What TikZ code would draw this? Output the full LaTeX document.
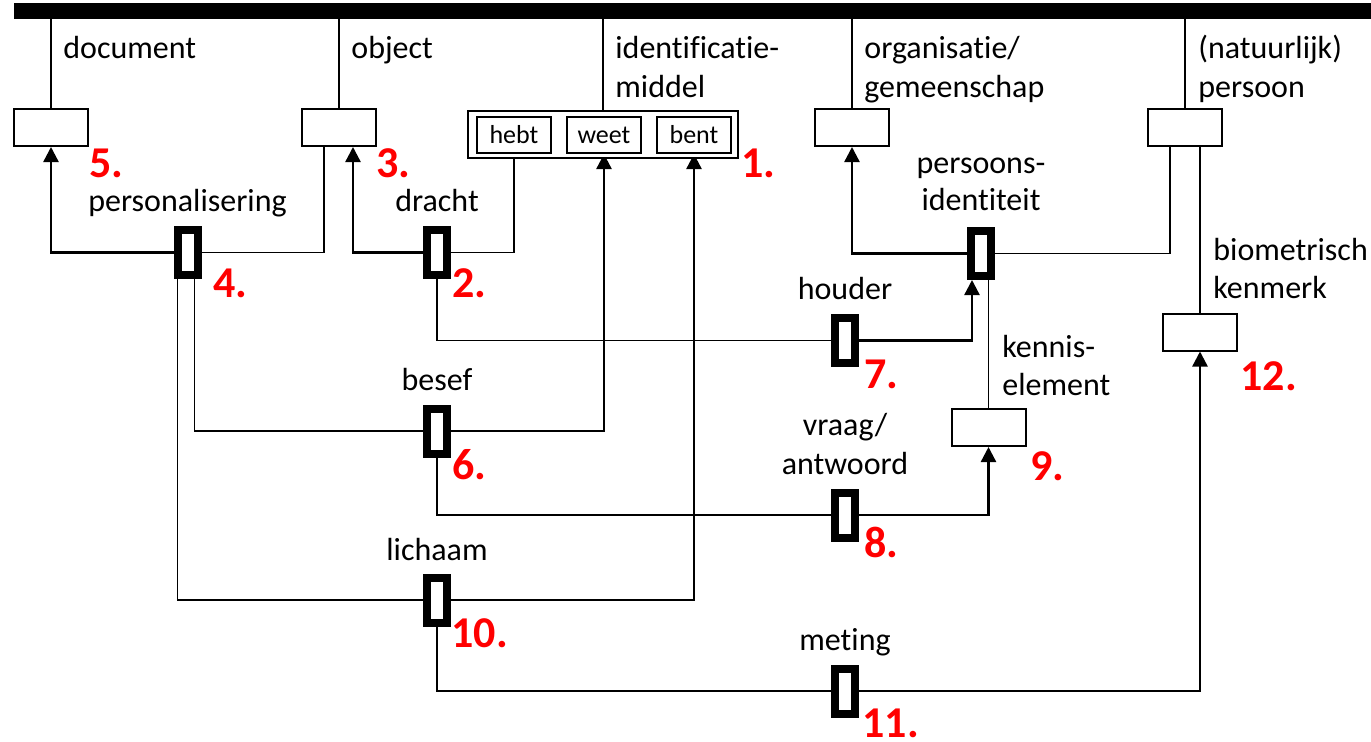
\documentclass[tikz,border=0pt]{standalone}
\usepackage{fontspec}
\setmainfont[Ligatures={NoCommon}]{Carlito}
\usetikzlibrary{arrows.meta,calc}
\pgfdeclarelayer{bg}
\pgfsetlayers{bg,main}
\begin{document}
\begin{tikzpicture}[x=0.5pt,y=-0.5pt,
  lbl/.style={font=\fontsize{16pt}{19.5pt}\selectfont, inner sep=0pt},
  small/.style={font=\fontsize{13pt}{15pt}\selectfont},
  num/.style={font=\fontsize{22pt}{26pt}\selectfont\bfseries, text=red, inner sep=0pt, anchor=base west},
  ent/.style={draw, line width=1pt, fill=white, minimum width=37pt, minimum height=18.5pt, inner sep=0pt},
  rel/.style={draw, line width=4pt, fill=white, minimum width=10pt, minimum height=22.5pt, inner sep=0pt},
  ln/.style={line width=0.8pt},
  arr/.style={line width=1.2pt, -{Triangle[width=7.5pt,length=7.5pt]}},
]
\useasboundingbox (0,0) rectangle (1371,741);

% top bar
\node (bar) [fill=black, inner sep=0pt, outer sep=0pt, minimum width=678.5pt, minimum height=8pt, anchor=north west] at (14,3) {};

% entity boxes
\node[ent] (B5) at (51,127.5) {};
\node[ent] (B3) at (339,127.5) {};
\node[ent] (Borg) at (852,127.5) {};
\node[ent] (Bpers) at (1185,127.5) {};
\node[ent] (B9) at (988.5,427.5) {};
\node[ent] (B12) at (1200,332) {};

% identificatiemiddel box
\node[draw, line width=1pt, fill=white, minimum width=135pt, minimum height=23.5pt, inner sep=0pt] (ID) at (603,134.5) {};
\node[ent, minimum height=18pt, small] (hebt) at (514,135) {hebt};
\node[ent, minimum height=18pt, small] (weet) at (604,135) {weet};
\node[ent, minimum height=18pt, small] (bent) at (694,135) {bent};

% relation boxes
\node[rel] (R4) at (187.5,252.5) {};
\node[rel] (R2) at (437,252.5) {};
\node[rel] (R6) at (437,431) {};
\node[rel] (R10) at (437,600) {};
\node[rel] (RPI) at (981,253.5) {};
\node[rel] (R7) at (845,340.5) {};
\node[rel] (R8) at (845,515) {};
\node[rel] (R11) at (845,691) {};

% connectors
\begin{pgfonlayer}{bg}
\draw[ln] (B5.north) -- (B5.north |- bar.south);
\draw[ln] (B3.north) -- (B3.north |- bar.south);
\draw[ln] (ID.north) -- (ID.north |- bar.south);
\draw[ln] (Borg.north) -- (Borg.north |- bar.south);
\draw[ln] (Bpers.north) -- (Bpers.north |- bar.south);

\draw[arr] (R4.west) -| (B5.south);
\draw[ln] (R4.east) -| ($(B3.south)+(-15,0)$);
\draw[ln] ($(R4.south)+(7,0)$) |- (R6.west);
\draw[ln] ($(R4.south)+(-10,0)$) |- (R10.west);

\draw[arr] (R2.west) -| ($(B3.south)+(14,0)$);
\draw[ln] (R2.east) -| (hebt.south);
\draw[ln] (R2.south) |- (R7.west);
\draw[arr] (R7.east) -| ($(RPI.south)+(-9,0)$);

\draw[arr] (R6.east) -| (weet.south);
\draw[ln] (R6.south) |- (R8.west);
\draw[arr] (R8.east) -| (B9.south);

\draw[arr] (R10.east) -| (bent.south);
\draw[ln] (R10.south) |- (R11.west);
\draw[arr] (R11.east) -| (B12.south);

\draw[arr] (RPI.west) -| (Borg.south);
\draw[ln] (RPI.east) -| ($(Bpers.south)+(-15,0)$);
\draw[ln] (B9.north) -- (B9.north |- RPI.south);
\draw[ln] (B12.north) -- (B12.north |- Bpers.south);
\end{pgfonlayer}

% labels
\node[lbl, anchor=base west] (tdoc) at (63,58) {document};
\node[lbl, anchor=base west] (tobj) at (351,58) {object};
\node[lbl, anchor=base west] (tid1) at (615,58) {identificatie-};
\node[lbl, anchor=base west] (tid2) at (615,97) {middel};
\node[lbl, anchor=base west] (torg1) at (864,58) {organisatie/};
\node[lbl, anchor=base west] (torg2) at (864,97) {gemeenschap};
\node[lbl, anchor=base west] (tper1) at (1198,58) {(natuurlijk)};
\node[lbl, anchor=base west] (tper2) at (1198,97) {persoon};
\node[lbl, anchor=base] (tpers) at (187.5,211) {personalisering};
\node[lbl, anchor=base] (tdra) at (437,211) {dracht};
\node[lbl, anchor=base] (tpi1) at (981,173) {persoons-};
\node[lbl, anchor=base] (tpi2) at (981,210) {identiteit};
\node[lbl, anchor=base] (thou) at (845,299) {houder};
\node[lbl, anchor=base] (tbes) at (437,390) {besef};
\node[lbl, anchor=base west] (tke1) at (1002,357) {kennis-};
\node[lbl, anchor=base west] (tke2) at (1002,395) {element};
\node[lbl, anchor=base] (tvr1) at (845,435) {vraag/};
\node[lbl, anchor=base] (tvr2) at (845,474) {antwoord};
\node[lbl, anchor=base] (tlic) at (437,560) {lichaam};
\node[lbl, anchor=base] (tmet) at (845,650) {meting};
\node[lbl, anchor=base west] (tbio1) at (1213,260) {biometrisch};
\node[lbl, anchor=base west] (tbio2) at (1213,298) {kenmerk};

% red numbers
\node[num] (n5) at (89,177) {5.};
\node[num] (n3) at (376,177) {3.};
\node[num] (n1) at (741,177) {1.};
\node[num] (n4) at (213,297) {4.};
\node[num] (n2) at (452,297) {2.};
\node[num] (n6) at (452,479) {6.};
\node[num] (n10) at (451,647) {10.};
\node[num] (n7) at (864,388) {7.};
\node[num] (n8) at (864,557) {8.};
\node[num] (n9) at (1030,480) {9.};
\node[num] (n11) at (862,737) {11.};
\node[num] (n12) at (1240,390) {12.};
\end{tikzpicture}
\end{document}
